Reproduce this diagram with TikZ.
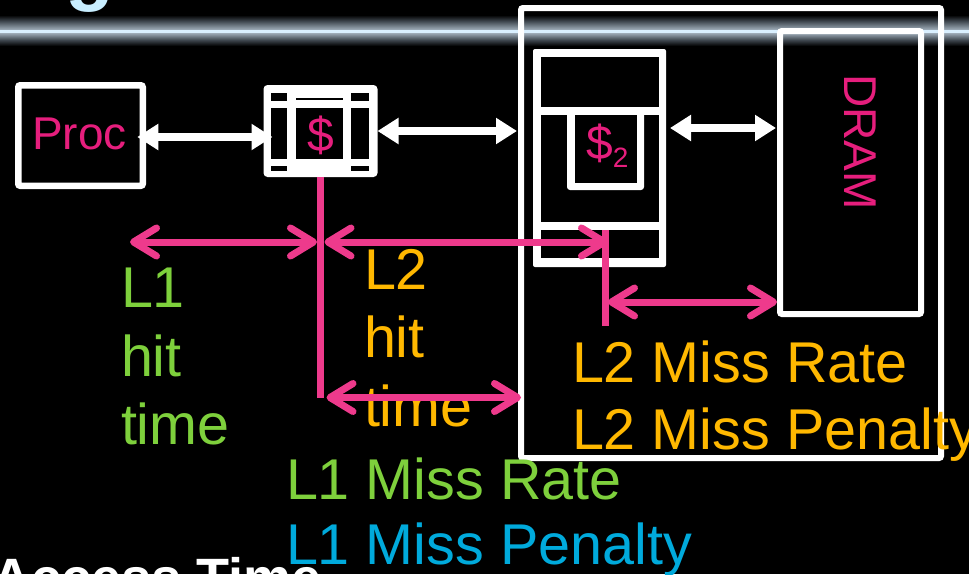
\documentclass[tikz,border=0pt]{standalone}
\usepackage{fontspec}
\setmainfont{Liberation Sans}
\usetikzlibrary{arrows.meta,calc}
\definecolor{tpink}{RGB}{230,30,125}
\definecolor{lpink}{RGB}{238,58,140}
\definecolor{lgreen}{RGB}{126,208,60}
\definecolor{lorange}{RGB}{255,184,0}
\definecolor{lblue}{RGB}{0,170,220}
\definecolor{lcyan}{RGB}{200,238,255}
\definecolor{banddark}{RGB}{62,70,78}
\definecolor{bandgray}{RGB}{158,172,184}
\definecolor{bandlite}{RGB}{218,240,255}
\begin{document}
\begin{tikzpicture}[x=1pt,y=-1pt,
  wbox/.style={draw=white, line width=6.5pt, rounded corners=2pt, inner sep=0pt, outer sep=0pt},
  wfill/.style={fill=white, draw=none, rounded corners=3pt, inner sep=0pt, outer sep=0pt},
  warrow/.style={draw=white, line width=8pt, {Triangle[length=21pt,width=25pt]}-{Triangle[length=21pt,width=25pt]}},
  parrow/.style={draw=lpink, line width=7pt, {Straight Barb[length=23pt,width=28pt,round]}-{Straight Barb[length=23pt,width=28pt,round]}},
  pline/.style={draw=lpink, line width=7pt},
  big/.style={font=\fontsize{57.5}{68.5}\selectfont, inner sep=0pt, outer sep=0pt, align=left},
  mid/.style={font=\fontsize{48}{48}\selectfont, text=tpink, inner sep=0pt},
]
\useasboundingbox (0,0) rectangle (969,574);
\fill[black] (0,0) rectangle (969,574);
% title band
\shade[top color=black, bottom color=banddark] (0,15) rectangle (969,21);
\shade[top color=banddark, bottom color=bandgray] (0,21) rectangle (969,29.5);
\fill[bandlite] (0,29.5) rectangle (969,33);
\shade[top color=bandgray, bottom color=banddark] (0,33) rectangle (969,40);
\shade[top color=banddark, bottom color=black] (0,40) rectangle (969,46);
\node[font=\fontsize{80}{80}\selectfont\bfseries, text=lcyan, anchor=base west, inner sep=0pt] (gt) at (65,-5) {g};

% processor
\node[wbox, minimum width=124.5pt, minimum height=100.5pt] (proc) at (80.5,135.5) {};
\node[mid, font=\fontsize{46}{46}\selectfont, anchor=base west] (proct) at (32,149) {Proc};

% L1 cache
\node[wfill, rounded corners=4pt, minimum width=114pt, minimum height=92pt] (c1) at (320.5,131) {};
\fill[black] (271,93) rectangle (287,100.5);
\fill[black] (351,93) rectangle (369,100.5);
\fill[black] (296,97.8) rectangle (343,99.5);
\fill[black] (271,108) rectangle (287,159);
\fill[black] (296,108) rectangle (343,159);
\fill[black] (351,108) rectangle (369,159);
\fill[black] (271,166) rectangle (287,170.5);
\fill[black] (351,166) rectangle (369,170.5);
\node[mid, anchor=base] (d1) at (321,151.5) {\$};

% L2 region
\node[wbox, line width=6pt, minimum width=420pt, minimum height=450pt] (l2box) at (731,233) {};
\node[wfill, rounded corners=2pt, minimum width=133pt, minimum height=218pt] (c2) at (599.5,158) {};
\fill[black] (541,57) rectangle (659,107);
\fill[black] (541,115) rectangle (659,222);
\fill[white, rounded corners=3pt] (567,110) rectangle (644,190);
\fill[black] (575,115) rectangle (637,183);
\fill[black] (541,230) rectangle (659,258);
\node[mid, anchor=base west] (d2) at (586,159.5) {\$\raisebox{-7.5pt}{\fontsize{28}{28}\selectfont 2}};

% DRAM
\node[wbox, line width=6pt, minimum width=141pt, minimum height=283pt] (dram) at (850.5,172.5) {};
\node[mid, font=\fontsize{46}{46}\selectfont, rotate=-90] (dramt) at (860,142) {DRAM};

% white connectors
\draw[warrow] ($(proc.east)+(-5.5,1.5)$) -- ($(c1.west)+(9,6)$);
\coordinate (l2w) at (c1.east -| l2box.west);
\draw[warrow] (c1.east) -- ($(l2w)+(-4,0)$);
\coordinate (c2e) at (c2.east |- 0,128);
\coordinate (dw) at (dram.west |- 0,128);
\draw[warrow] ($(c2e)+(4,0)$) -- ($(dw)+(-4,0)$);

% bottom title text
\node[font=\fontsize{54}{54}\selectfont\bfseries, text=white, anchor=north west, inner sep=0pt] (acc) at (-8,557) {Access Time};

% labels
\node[big, text=lgreen, anchor=north west] (l1t) at (121,268) {L1\\hit\\time};
\node[big, text=lorange, anchor=north west] (l2t) at (364,249) {L2\\hit\\time};
\node[big, text=lorange, anchor=north west, font=\fontsize{57.5}{67}\selectfont] (l2m) at (572,341) {L2 Miss Rate\\L2 Miss Penalty};
\node[big, text=lgreen, anchor=base west] (l1m) at (286,499) {L1 Miss Rate};
\node[big, text=lblue, anchor=base west] (l1p) at (286,564) {L1 Miss Penalty};

% pink timing lines
\coordinate (v1b) at (c1.south |- 0,397.5);
\draw[pline] (c1.south) -- (v1b);
\coordinate (a1l) at (130,242);
\coordinate (v1m) at (c1.south |- 0,242);
\draw[parrow] (a1l) -- ($(v1m)+(-3.5,0)$);
\coordinate (v2t) at (605,230);
\coordinate (v2b) at (605,326);
\coordinate (v2m) at (v2t |- 0,242);
\draw[parrow] ($(v1m)+(4,0)$) -- ($(v2m)+(3,0)$);
\draw[pline] (v2t) -- (v2b);
\coordinate (a3r) at (l2box.west |- v1b);
\draw[parrow] ($(v1b)+(6,0)$) -- (a3r);
\coordinate (a4l) at (v2t |- 0,302);
\coordinate (a4r) at (dram.west |- 0,302);
\draw[parrow] ($(a4l)+(3,0)$) -- ($(a4r)+(-3,0)$);
\end{tikzpicture}
\end{document}
